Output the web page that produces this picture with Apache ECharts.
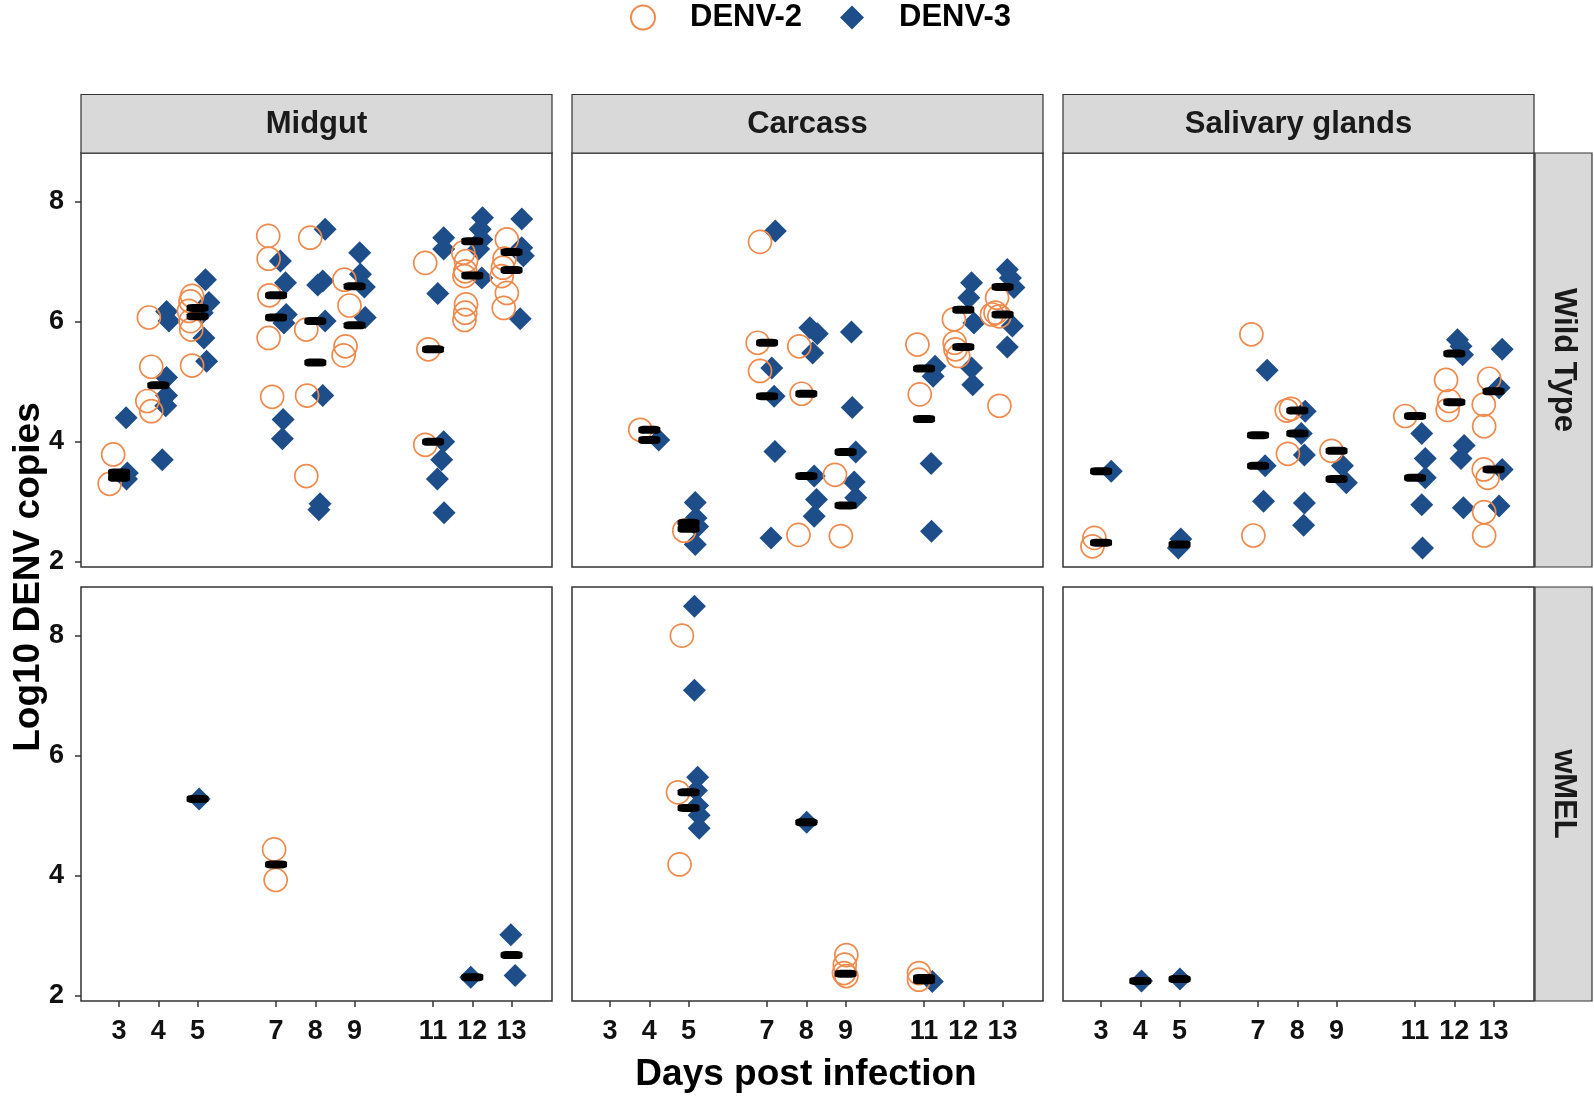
<!DOCTYPE html>
<html>
<head>
<meta charset="utf-8">
<script src="https://cdn.jsdelivr.net/npm/echarts@6/dist/echarts.min.js"></script>
<style>
  html, body { margin: 0; padding: 0; background: #fff; }
  #chart { width: 1594px; height: 1096px; }
</style>
</head>
<body>
<div id="chart"></div>
<script>
const days = [3, 4, 5, 7, 8, 9, 11, 12, 13]
const yTicks = [2, 4, 6, 8]
const tissues = ['Midgut', 'Carcass', 'Salivary glands']
const strains = ['Wild Type', 'wMEL']

// [day (with jitter), log10 copies]
const wtMidgutD2 = [
  [2.85, 3.79], [2.76, 3.30],
  [3.76, 6.07], [3.82, 5.25], [3.72, 4.68], [3.82, 4.51],
  [4.86, 6.43], [4.82, 6.34], [4.78, 6.18], [4.82, 6.01], [4.84, 5.87], [4.86, 5.27],
  [6.80, 7.43], [6.81, 7.05], [6.83, 6.44], [6.81, 5.73], [6.90, 4.75],
  [7.87, 7.40], [7.77, 5.87], [7.79, 4.77], [7.77, 3.43],
  [8.74, 6.70], [8.87, 6.27], [8.77, 5.59], [8.72, 5.44],
  [10.80, 6.98], [10.88, 5.54], [10.80, 3.95],
  [11.77, 7.15], [11.84, 7.01], [11.82, 6.84], [11.80, 6.76], [11.84, 6.29], [11.82, 6.15], [11.80, 6.03],
  [12.88, 7.37], [12.82, 7.05], [12.78, 6.90], [12.75, 6.76], [12.88, 6.48], [12.80, 6.23]
]
const wtMidgutD3 = [
  [3.21, 3.48], [3.19, 3.38], [3.18, 4.40],
  [4.10, 3.70], [4.21, 6.17], [4.27, 6.01], [4.21, 5.07], [4.21, 4.77], [4.19, 4.60],
  [5.20, 6.70], [5.29, 6.32], [5.12, 6.15], [5.16, 5.73], [5.23, 5.34],
  [7.11, 7.01], [7.24, 6.65], [7.26, 6.12], [7.20, 5.98], [7.18, 4.37], [7.16, 4.05],
  [8.25, 7.54], [8.19, 6.68], [8.06, 6.61], [8.25, 6.01], [8.19, 4.77], [8.12, 2.97], [8.09, 2.87],
  [9.13, 7.15], [9.15, 6.79], [9.25, 6.58], [9.27, 6.07],
  [11.27, 7.40], [11.27, 7.21], [11.12, 6.47], [11.27, 4.00], [11.22, 3.70], [11.11, 3.38], [11.28, 2.82],
  [12.26, 7.73], [12.20, 7.54], [12.24, 7.37], [12.16, 7.21], [12.24, 6.73],
  [13.26, 7.71], [13.26, 7.23], [13.30, 7.10], [13.22, 6.05]
]
const wtMidgutMed = [
  [3, 3.49], [3, 3.40], [4, 4.94], [5, 6.23], [5, 6.09], [7, 6.44], [7, 6.07], [8, 6.01], [8, 5.32],
  [9, 6.59], [9, 5.94], [11, 5.54], [11, 4.00], [12, 7.34], [12, 6.77], [13, 7.16], [13, 6.86]
]

const wtCarcassD2 = [
  [3.77, 4.20],
  [4.89, 2.52],
  [6.82, 7.33], [6.76, 5.65], [6.82, 5.18],
  [7.82, 5.59], [7.88, 4.80], [7.80, 2.45],
  [8.73, 3.45], [8.88, 2.43],
  [10.83, 5.62], [10.89, 4.79],
  [11.76, 6.04], [11.78, 5.65], [11.80, 5.54], [11.87, 5.43],
  [12.86, 6.40], [12.82, 6.15], [12.92, 6.09], [12.73, 6.12], [12.92, 4.60]
]
const wtCarcassD3 = [
  [4.24, 4.03],
  [5.17, 2.99], [5.19, 2.73], [5.23, 2.59], [5.17, 2.29],
  [7.21, 7.51], [7.12, 5.23], [7.18, 4.76], [7.20, 3.84], [7.10, 2.40],
  [8.09, 5.90], [8.28, 5.80], [8.16, 5.48], [8.20, 3.43], [8.26, 3.04], [8.20, 2.76],
  [9.15, 5.83], [9.17, 4.57], [9.26, 3.83], [9.22, 3.33], [9.26, 3.07],
  [11.28, 5.26], [11.23, 5.09], [11.18, 3.64], [11.19, 2.51],
  [12.21, 6.65], [12.14, 6.40], [12.27, 5.98], [12.21, 5.23], [12.24, 4.95],
  [13.12, 6.87], [13.20, 6.73], [13.29, 6.57], [13.25, 5.93], [13.12, 5.58]
]
const wtCarcassMed = [
  [4, 4.20], [4, 4.03], [5, 2.65], [5, 2.55], [7, 5.65], [7, 4.76], [8, 4.80], [8, 3.43],
  [9, 3.83], [9, 2.94], [11, 5.22], [11, 4.38], [12, 6.20], [12, 5.58], [13, 6.58], [13, 6.12]
]

const wtSalivaryD2 = [
  [2.83, 2.40], [2.78, 2.26],
  [6.83, 5.79], [6.88, 2.44],
  [7.73, 4.52], [7.84, 4.55], [7.76, 3.80],
  [8.87, 3.85],
  [10.75, 4.43],
  [11.79, 5.03], [11.87, 4.68], [11.83, 4.53],
  [12.89, 5.05], [12.75, 4.62], [12.76, 4.26], [12.75, 3.54], [12.85, 3.40], [12.76, 2.83], [12.76, 2.44]
]
const wtSalivaryD3 = [
  [3.26, 3.51],
  [5.03, 2.38], [4.97, 2.23],
  [7.23, 5.19], [7.18, 3.60], [7.14, 3.01],
  [8.20, 4.51], [8.10, 4.14], [8.18, 3.78], [8.18, 2.98], [8.16, 2.61],
  [9.15, 3.60], [9.25, 3.32],
  [11.17, 4.14], [11.26, 3.72], [11.26, 3.40], [11.17, 2.95], [11.19, 2.23],
  [12.08, 5.70], [12.17, 5.59], [12.21, 5.45], [12.25, 3.94], [12.17, 3.72], [12.23, 2.90],
  [13.22, 5.54], [13.14, 4.90], [13.22, 3.54], [13.14, 2.93]
]
const wtSalivaryMed = [
  [3, 3.51], [3, 2.32], [5, 2.29], [7, 4.11], [7, 3.60], [8, 4.52], [8, 4.14], [9, 3.85], [9, 3.38],
  [11, 4.43], [11, 3.40], [12, 5.47], [12, 4.66], [13, 4.84], [13, 3.54]
]

const wmMidgutD2 = [[6.95, 4.44], [6.99, 3.93]]
const wmMidgutD3 = [[5.04, 5.28], [11.96, 2.31], [12.98, 3.02], [13.09, 2.34]]
const wmMidgutMed = [[5, 5.28], [7, 4.19], [12, 2.31], [13, 2.68]]

const wmCarcassD2 = [
  [4.83, 8.00], [4.73, 5.39], [4.77, 4.19],
  [9.02, 2.68], [8.98, 2.52], [8.96, 2.38], [9.02, 2.33],
  [10.87, 2.38], [10.87, 2.27]
]
const wmCarcassD3 = [
  [5.15, 8.49], [5.15, 7.09], [5.23, 5.64], [5.20, 5.42], [5.23, 5.17], [5.27, 5.01], [5.27, 4.79],
  [8.01, 4.89],
  [11.21, 2.24]
]
const wmCarcassMed = [[5, 5.39], [5, 5.13], [8, 4.89], [9, 2.37], [11, 2.30], [11, 2.26]]

const wmSalivaryD2 = []
const wmSalivaryD3 = [[4.03, 2.25], [5.01, 2.28]]
const wmSalivaryMed = [[4, 2.25], [5, 2.28]]

const panels = [
  { d2: wtMidgutD2, d3: wtMidgutD3, med: wtMidgutMed },
  { d2: wtCarcassD2, d3: wtCarcassD3, med: wtCarcassMed },
  { d2: wtSalivaryD2, d3: wtSalivaryD3, med: wtSalivaryMed },
  { d2: wmMidgutD2, d3: wmMidgutD3, med: wmMidgutMed },
  { d2: wmCarcassD2, d3: wmCarcassD3, med: wmCarcassMed },
  { d2: wmSalivaryD2, d3: wmSalivaryD3, med: wmSalivaryMed }
]

const ORANGE = '#EF8A4C'
const BLUE = '#1D4E89'
const FONT = "'Liberation Sans', Arial, sans-serif"
const colLeft = [81, 572, 1063]
const rowTop = [153, 587]
const panelW = 471
const panelH = 414
const stripTop = 94.5

const chart = echarts.init(document.getElementById('chart'), null, { renderer: 'canvas' })

const grids = [], xAxes = [], yAxes = [], series = []
panels.forEach((p, i) => {
  const row = Math.floor(i / 3), col = i % 3
  grids.push({
    left: colLeft[col], top: rowTop[row], width: panelW, height: panelH,
    show: true, borderColor: '#333', borderWidth: 1.5, backgroundColor: '#fff',
    containLabel: false, outerBoundsMode: 'none'
  })
  xAxes.push({
    type: 'value', gridIndex: i, min: 2.03, max: 14.03,
    axisLine: { show: false },
    splitLine: { show: false },
    axisTick: { show: row === 1, customValues: days, length: 6, lineStyle: { color: '#333', width: 1.5 } },
    axisLabel: {
      show: row === 1, customValues: days, margin: 17,
      color: '#111', fontSize: 27, fontWeight: 'bold', fontFamily: FONT
    }
  })
  yAxes.push({
    type: 'value', gridIndex: i, min: 1.915, max: 8.81,
    axisLine: { show: false },
    splitLine: { show: false },
    axisTick: { show: col === 0, customValues: yTicks, length: 6, lineStyle: { color: '#333', width: 1.5 } },
    axisLabel: {
      show: col === 0, customValues: yTicks, margin: 17,
      color: '#111', fontSize: 27, fontWeight: 'bold', fontFamily: FONT
    }
  })
  series.push({
    type: 'scatter', name: 'DENV-3', xAxisIndex: i, yAxisIndex: i, data: p.d3,
    symbol: 'diamond', symbolSize: 23, itemStyle: { color: BLUE, opacity: 1 }, z: 2
  })
  series.push({
    type: 'scatter', name: 'DENV-2', xAxisIndex: i, yAxisIndex: i, data: p.d2,
    symbol: 'circle', symbolSize: 23,
    itemStyle: { color: 'rgba(255,255,255,0)', borderColor: ORANGE, borderWidth: 1.7, opacity: 1 }, z: 3
  })
  series.push({
    type: 'scatter', name: 'median', xAxisIndex: i, yAxisIndex: i, data: p.med,
    symbol: 'roundRect', symbolSize: [22, 8], itemStyle: { color: '#000', opacity: 1 }, z: 4
  })
})

const graphics = []
tissues.forEach((t, c) => {
  graphics.push({
    type: 'rect', shape: { x: colLeft[c], y: stripTop, width: panelW, height: rowTop[0] - stripTop },
    style: { fill: '#D9D9D9', stroke: '#333', lineWidth: 1.2 }, z: 10
  })
  graphics.push({
    type: 'text', x: colLeft[c] + panelW / 2, y: (stripTop + rowTop[0]) / 2 + 1, z: 11,
    style: { text: t, align: 'center', verticalAlign: 'middle', textAlign: 'center', textVerticalAlign: 'middle',
      font: 'bold 31px ' + FONT, fill: '#1a1a1a' }
  })
})
strains.forEach((s, r) => {
  graphics.push({
    type: 'rect', shape: { x: 1535, y: rowTop[r], width: 57, height: panelH },
    style: { fill: '#D9D9D9', stroke: '#333', lineWidth: 1.2 }, z: 10
  })
  graphics.push({
    type: 'text', x: 1563.5, y: rowTop[r] + panelH / 2, rotation: -Math.PI / 2, z: 11,
    style: { text: s, align: 'center', verticalAlign: 'middle', textAlign: 'center', textVerticalAlign: 'middle',
      font: 'bold 31px ' + FONT, fill: '#1a1a1a' }
  })
})
graphics.push({
  type: 'text', x: 29, y: 577, rotation: Math.PI / 2, z: 11,
  style: { text: 'Log10 DENV copies', align: 'center', verticalAlign: 'middle', textAlign: 'center', textVerticalAlign: 'middle',
    font: 'bold 37px ' + FONT, fill: '#000' }
})
graphics.push({
  type: 'text', x: 806, y: 1075, z: 11,
  style: { text: 'Days post infection', align: 'center', verticalAlign: 'middle', textAlign: 'center', textVerticalAlign: 'middle',
    font: 'bold 37px ' + FONT, fill: '#000' }
})

const legendText = { fontSize: 31, fontWeight: 'bold', fontFamily: FONT, color: '#000', padding: [0, 0, 0, 30] }
chart.setOption({
  animation: false,
  backgroundColor: '#fff',
  legend: [
    { data: ['DENV-2'], left: 630, top: 2, padding: 0, itemWidth: 24, itemHeight: 24, textStyle: legendText, selectedMode: false },
    { data: ['DENV-3'], left: 840, top: 2, padding: 0, itemWidth: 24, itemHeight: 24, textStyle: legendText, selectedMode: false }
  ],
  grid: grids,
  xAxis: xAxes,
  yAxis: yAxes,
  series: series,
  graphic: graphics
})
window.onresize = () => { chart.resize() }
</script>
</body>
</html>
